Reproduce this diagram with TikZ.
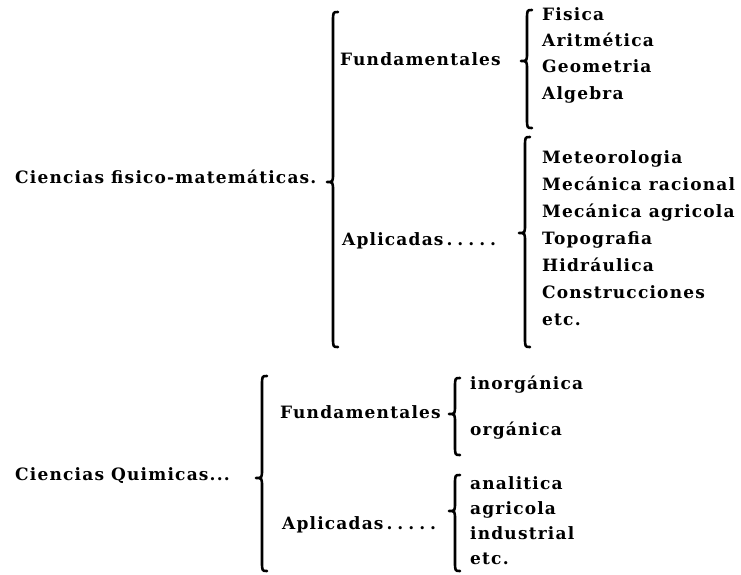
\documentclass[tikz,border=0pt]{standalone}
\usepackage{fontspec}
\setmainfont{DejaVu Serif}[LetterSpace=7]
\newcommand{\mybrace}[4]{%
  \draw[bracestyle] (#1+5,#2) .. controls (#1,#2) .. (#1,#2+10) -- (#1,#3-9)
    .. controls (#1,#3) .. (#1-6,#3) .. controls (#1,#3) .. (#1,#3+9)
    -- (#1,#4-10) .. controls (#1,#4) .. (#1+5,#4);}
\newcommand{\dotrow}{\hspace{3pt}.\hspace{5pt}.\hspace{5pt}.\hspace{5pt}.\hspace{5pt}.}
\begin{document}
\begin{tikzpicture}[x=1pt,y=-1pt,
  txt/.style={anchor=mid west, inner sep=0pt, font=\fontsize{17}{19}\selectfont\bfseries},
  bracestyle/.style={line width=2.6pt, line cap=round, line join=round}]
\useasboundingbox[fill=white] (0,0) rectangle (741,574);
% upper section
\node[txt] (cfm) at (15,181) {Ciencias fisico-matemáticas.};
\node[txt] (f1) at (340,63) {Fundamentales};
\node[txt] (a1) at (342,243) {Aplicadas\dotrow};
\node[txt] (i1) at (542,18) {Fisica};
\node[txt] (i2) at (542,44) {Aritmética};
\node[txt] (i3) at (542,70) {Geometria};
\node[txt] (i4) at (542,97) {Algebra};
\node[txt] (i5) at (542,161) {Meteorologia};
\node[txt] (i6) at (542,188) {Mecánica racional};
\node[txt] (i7) at (542,215) {Mecánica agricola};
\node[txt] (i8) at (542,242) {Topografia};
\node[txt] (i9) at (542,269) {Hidráulica};
\node[txt] (i10) at (542,296) {Construcciones};
\node[txt] (i11) at (542,323) {etc.};
\mybrace{333}{12}{182}{347}
\mybrace{527}{10}{61}{128}
\mybrace{525}{137}{233}{347}
% lower section
\node[txt] (cq) at (15,478) {Ciencias Quimicas...};
\node[txt] (f2) at (280,416) {Fundamentales};
\node[txt] (a2) at (282,527) {Aplicadas\dotrow};
\node[txt] (j1) at (470,387) {inorgánica};
\node[txt] (j2) at (470,433) {orgánica};
\node[txt] (j3) at (470,487) {analitica};
\node[txt] (j4) at (470,512) {agricola};
\node[txt] (j5) at (470,537) {industrial};
\node[txt] (j6) at (470,562) {etc.};
\mybrace{262}{376}{478}{571}
\mybrace{455}{378}{414}{455}
\mybrace{455}{475}{511}{571}
\end{tikzpicture}
\end{document}
